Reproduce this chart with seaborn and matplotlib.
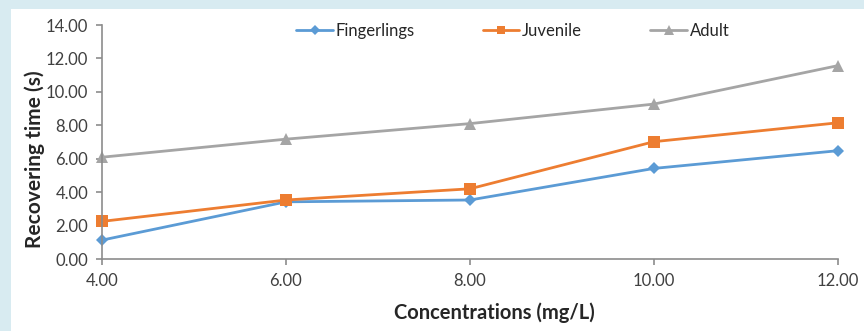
import matplotlib
matplotlib.use("Agg")
import matplotlib.pyplot as plt
import seaborn as sns
import pandas as pd
from matplotlib.patches import Rectangle

concentrations = [4.0, 6.0, 8.0, 10.0, 12.0]
fingerlings = [1.13, 3.42, 3.53, 5.42, 6.48]
juvenile = [2.25, 3.53, 4.2, 7.02, 8.15]
adult = [6.09, 7.17, 8.1, 9.27, 11.57]
series_names = ["Fingerlings", "Juvenile", "Adult"]

df = pd.DataFrame({
    "conc": concentrations * 3,
    "time": fingerlings + juvenile + adult,
    "group": [series_names[0]] * 5 + [series_names[1]] * 5 + [series_names[2]] * 5,
})

sns.set_style("white")
plt.rcParams["font.family"] = ["Lato", "DejaVu Sans"]

fig = plt.figure(figsize=(8.64, 3.31), dpi=100)
fig.patch.set_facecolor("#d8ebf1")
fig.patches.append(Rectangle((11 / 864, 0), 1, 1 - 9 / 331, transform=fig.transFigure,
                             facecolor="white", edgecolor="none", zorder=-5))
ax = fig.add_axes([102 / 864, 1 - 259 / 331, (838 - 102) / 864, (259 - 25) / 331])
ax.set_zorder(2)
ax.set_facecolor("none")

palette = {"Fingerlings": "#5b9bd5", "Juvenile": "#ed7d31", "Adult": "#a5a5a5"}
markers = {"Fingerlings": "D", "Juvenile": "s", "Adult": "^"}
sizes_m = {"Fingerlings": 6, "Juvenile": 8, "Adult": 8.5}
for name in series_names:
    sub = df[df["group"] == name]
    sns.lineplot(data=sub, x="conc", y="time", ax=ax, color=palette[name],
                 marker=markers[name], markersize=sizes_m[name], markeredgewidth=0,
                 linewidth=2, label=name, clip_on=False)

ax.set_xlim(4, 12)
ax.set_ylim(0, 14)
ax.set_xticks(concentrations)
ax.set_xticklabels([f"{v:.2f}" for v in concentrations])
ax.set_yticks(range(0, 15, 2))
ax.set_yticklabels([f"{v:.2f}" for v in range(0, 15, 2)])
for s in ["top", "right"]:
    ax.spines[s].set_visible(False)
for s in ["left", "bottom"]:
    ax.spines[s].set_color("#8c8c8c")
    ax.spines[s].set_linewidth(1.2)
ax.tick_params(axis="both", which="both", length=4, width=1.2, color="#8c8c8c",
               labelsize=12, labelcolor="#404040", direction="out", left=True, bottom=True)
ax.tick_params(axis="x", pad=6)
ax.tick_params(axis="y", pad=6)
ax.set_xlabel("Concentrations (mg/L)", fontsize=14.5, fontweight="bold")
ax.set_ylabel("Recovering time (s)", fontsize=15, fontweight="bold")
ax.xaxis.label.set_va("center")
ax.xaxis.set_label_coords(0.533, -0.231)
ax.yaxis.set_label_coords(-0.0774, 0.428)

leg = ax.legend(loc="center", bbox_to_anchor=(0.558, 0.974), ncol=3, frameon=False,
                fontsize=12, handlelength=2.2, handletextpad=0.15, columnspacing=4.1,
                borderpad=0, borderaxespad=0, markerscale=0.8)
for t in leg.get_texts():
    t.set_color("#262626")

fig.savefig("out.png", dpi=100, facecolor=fig.get_facecolor())
